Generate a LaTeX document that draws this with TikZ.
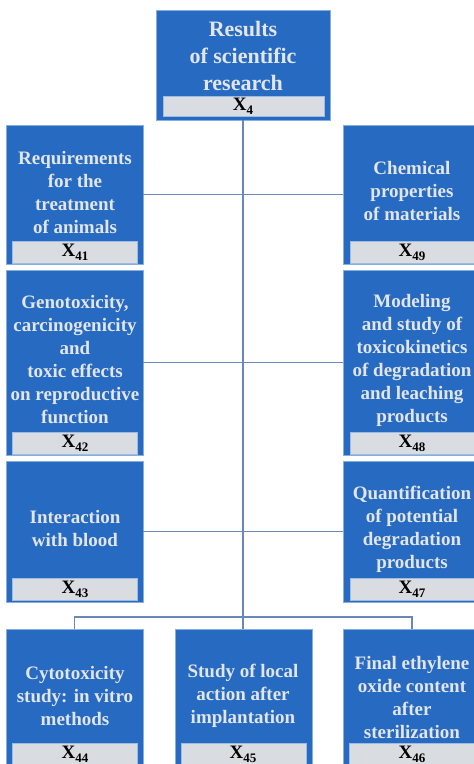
\documentclass[tikz,border=0pt]{standalone}
\usepackage{fontspec}
\setmainfont{Liberation Serif}
\definecolor{boxblue}{RGB}{38,107,193}
\definecolor{stripgrey}{RGB}{217,220,225}
\definecolor{linecol}{RGB}{105,135,185}
\definecolor{txtcol}{RGB}{226,229,234}
\newcommand{\xlab}[1]{X\raisebox{-0.45ex}{\fontsize{13}{13}\selectfont #1}}
\begin{document}
\begin{tikzpicture}[x=1pt,y=-1pt,
  bluebox/.style={draw=boxblue!55!white, line width=0.8pt, fill=boxblue, inner sep=0pt, outer sep=0pt, anchor=north west, minimum width=#1},
  bluebox/.default=137pt,
  strip/.style={draw=boxblue!45!white, line width=0.6pt, fill=stripgrey, inner sep=0pt, outer sep=0pt, anchor=north west, minimum height=22pt, minimum width=#1, font=\bfseries\fontsize{19}{19}\selectfont, text=black},
  strip/.default=125pt,
  xtext/.style={inner sep=0pt, font=\bfseries\fontsize{19}{19}\selectfont, text=black},
  boxtext/.style={align=center, text=txtcol, font=\bfseries\fontsize{19}{23}\selectfont, inner sep=0pt},
  conn/.style={draw=linecol, line width=1.1pt}]
\useasboundingbox (0,0) rectangle (474,764);
\clip (0,0) rectangle (474,764);
% boxes
\node[bluebox=174pt, minimum height=110pt] (top) at (156,10) {};
\node[bluebox, minimum height=139pt] (L1) at (6,125) {};
\node[bluebox, minimum height=185pt] (L2) at (6,270) {};
\node[bluebox, minimum height=141pt] (L3) at (6,461) {};
\node[bluebox=138pt, minimum height=139pt] (R1) at (343,125) {};
\node[bluebox=138pt, minimum height=185pt] (R2) at (343,270) {};
\node[bluebox=138pt, minimum height=141pt] (R3) at (343,461) {};
\node[bluebox, minimum height=150pt] (B1) at (6,629) {};
\node[bluebox, minimum height=150pt] (B2) at (175,629) {};
\node[bluebox=138pt, minimum height=150pt] (B3) at (343,629) {};
% strips
\node[strip=161pt, minimum height=20pt] (sTop) at (163,96) {};
\node[strip] (sL1) at (12,241) {};
\node[strip] (sL2) at (12,432) {};
\node[strip] (sL3) at (12,578) {};
\node[strip] (sR1) at (350,241) {};
\node[strip] (sR2) at (350,432) {};
\node[strip] (sR3) at (350,578) {};
\node[strip, minimum height=30pt] (sB1) at (12,743) {};
\node[strip, minimum height=30pt] (sB2) at (181,743) {};
\node[strip, minimum height=30pt] (sB3) at (349,743) {};
% strip labels
\node[xtext] (xTop) at (243,106) {\xlab{4}};
\node[xtext] (xL1) at (75,252) {\xlab{41}};
\node[xtext] (xL2) at (75,443) {\xlab{42}};
\node[xtext] (xL3) at (75,589) {\xlab{43}};
\node[xtext] (xR1) at (412,252) {\xlab{49}};
\node[xtext] (xR2) at (412,443) {\xlab{48}};
\node[xtext] (xR3) at (412,589) {\xlab{47}};
\node[xtext] (xB1) at (75,754) {\xlab{44}};
\node[xtext] (xB2) at (243,754) {\xlab{45}};
\node[xtext] (xB3) at (412,754) {\xlab{46}};
% texts
\node[boxtext, font=\bfseries\fontsize{22}{27}\selectfont] (tTop) at (243,56) {Results\\of scientific\\research};
\node[boxtext] (tL1) at (75,192) {Requirements\\for the\\treatment\\of animals};
\node[boxtext] (tR1) at (412,191) {Chemical\\properties\\of materials};
\node[boxtext] (tL2) at (75,360) {Genotoxicity,\\carcinogenicity\\and\\toxic effects\\on reproductive\\function};
\node[boxtext] (tR2) at (412,360) {Modeling\\and study of\\toxicokinetics\\of degradation\\and leaching\\products};
\node[boxtext] (tL3) at (75,528) {Interaction\\with blood};
\node[boxtext] (tR3) at (412,529) {Quantification\\of potential\\degradation\\products};
\node[boxtext] (tB1) at (75,696) {Cytotoxicity\\study: in vitro\\methods};
\node[boxtext] (tB2) at (243,696) {Study of local\\action after\\implantation};
\node[boxtext] (tB3) at (412,697) {Final ethylene\\oxide content\\after\\sterilization};
% connectors
\coordinate (j) at (243,617);
\draw[conn] (top.south -| j) -- (j);
\draw[conn] (L1.east) -- (R1.west);
\draw[conn] (L2.east) -- (R2.west);
\draw[conn] (L3.east) -- (R3.west);
\draw[conn] (B1.north) |- (j) -| (B3.north);
\draw[conn] (j) -- (B2.north -| j);
\end{tikzpicture}
\end{document}
